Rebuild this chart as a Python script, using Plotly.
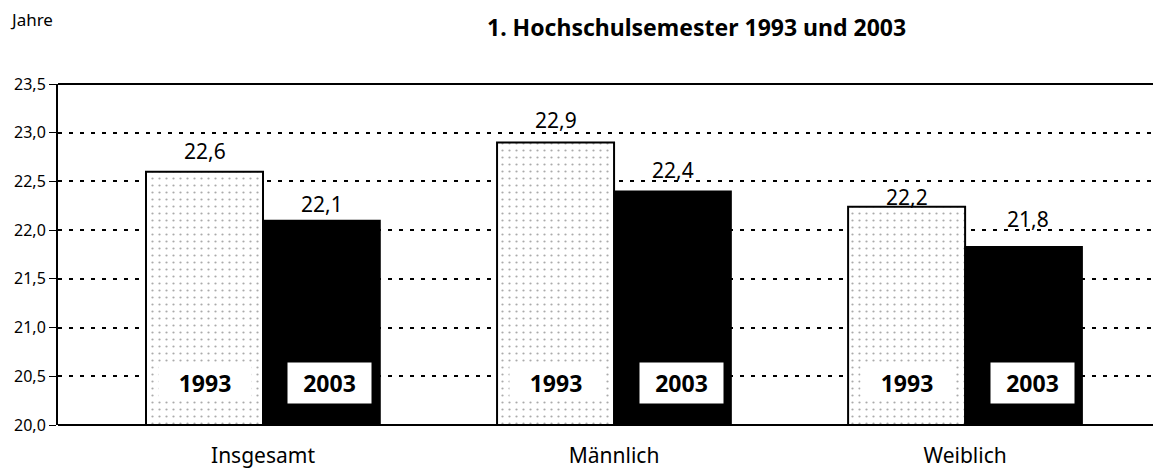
import plotly.graph_objects as go

categories = ["Insgesamt", "Männlich", "Weiblich"]
years = ["1993", "2003"]
values_1993 = [22.6, 22.9, 22.24]
values_2003 = [22.1, 22.4, 21.83]
y_ticks = [20.0, 20.5, 21.0, 21.5, 22.0, 22.5, 23.0, 23.5]

FONT = "Noto Sans"

def fmt(v):
    return f"{v:.1f}".replace(".", ",")

x_idx = list(range(len(categories)))

fig = go.Figure()
fig.add_trace(go.Bar(
    x=x_idx, y=values_1993, base=0, name=years[0],
    marker=dict(color="white", line=dict(color="black", width=2),
                pattern=dict(shape=".", fgcolor="#555555", bgcolor="white",
                             size=7, solidity=0.08)),
    hoverinfo="skip",
))
fig.add_trace(go.Bar(
    x=x_idx, y=values_2003, base=0, name=years[1],
    marker=dict(color="black", line=dict(color="black", width=1.5)),
    hoverinfo="skip",
))

annotations = []
off = 1 / 6
shift_93 = [21, 22, 10]
shift_03 = [16, 21, 28]
for i in x_idx:
    annotations.append(dict(x=i - off, y=values_1993[i], text=fmt(values_1993[i]),
                            showarrow=False, yshift=shift_93[i], xref="x", yref="y",
                            font=dict(family=FONT, size=21, color="black")))
    annotations.append(dict(x=i + off, y=values_2003[i], text=fmt(values_2003[i]),
                            showarrow=False, yshift=shift_03[i], xshift=4 if i == 2 else 0,
                            xref="x", yref="y",
                            font=dict(family=FONT, size=21, color="black")))
    annotations.append(dict(x=i - off, y=20.43, text="<b>" + years[0] + "</b>",
                            showarrow=False, xref="x", yref="y", bgcolor="white",
                            borderpad=4, width=84, height=26,
                            font=dict(family=FONT, size=23, color="black")))
    annotations.append(dict(x=i + off + 0.024, y=20.43, text="<b>" + years[1] + "</b>",
                            showarrow=False, xref="x", yref="y", bgcolor="white",
                            borderpad=7, width=69, height=26,
                            font=dict(family=FONT, size=23, color="black")))

# page body has an 8px offset; positions below are window pixels mapped to paper coords
plot_left, plot_right, plot_top, plot_bottom = 58, 1161, 84, 425
plot_w = plot_right - plot_left
plot_h = plot_bottom - plot_top

annotations.append(dict(x=(8 - plot_left) / plot_w, y=(plot_bottom - 20) / plot_h,
                        xref="paper", yref="paper", text="Jahre",
                        showarrow=False, xanchor="left", yanchor="middle",
                        font=dict(family=FONT, size=17, color="black")))
annotations.append(dict(x=(485 - plot_left) / plot_w, y=(plot_bottom - 9) / plot_h,
                        xref="paper", yref="paper",
                        text="<b>1. Hochschulsemester 1993 und 2003</b>",
                        showarrow=False, xanchor="left", yanchor="top",
                        font=dict(family=FONT, size=23, color="black")))

fig.update_layout(
    width=1153, height=462,
    margin=dict(l=plot_left - 8, r=0, t=plot_top - 8, b=462 + 8 - plot_bottom, autoexpand=False),
    paper_bgcolor="white", plot_bgcolor="white",
    barmode="group", bargap=1/3, bargroupgap=0,
    showlegend=False,
    separators=",.",
    annotations=annotations,
    font=dict(family=FONT, color="black"),
    xaxis=dict(
        range=[-0.584, 2.558], tickmode="array", tickvals=x_idx, ticktext=categories,
        showgrid=False, zeroline=False, showline=False, ticks="", automargin=False,
        tickfont=dict(family=FONT, size=21, color="black"), ticklabelstandoff=16,
    ),
    yaxis=dict(
        range=[20.0, 23.5], tickmode="array", tickvals=y_ticks, tickformat=".1f",
        showgrid=True, gridcolor="black", gridwidth=2, griddash="4px,7px",
        showline=True, linecolor="black", linewidth=2, automargin=False,
        ticks="outside", ticklen=7, tickcolor="black", tickwidth=1,
        zeroline=False, tickfont=dict(family=FONT, size=16, color="black"),
    ),
    shapes=[
        dict(type="line", xref="paper", yref="paper", x0=0, x1=1, y0=1, y1=1,
             line=dict(color="black", width=2), layer="above"),
        dict(type="line", xref="paper", yref="paper", x0=0, x1=1, y0=0, y1=0,
             line=dict(color="black", width=2), layer="above"),
    ],
)

fig.write_html("out.html")
